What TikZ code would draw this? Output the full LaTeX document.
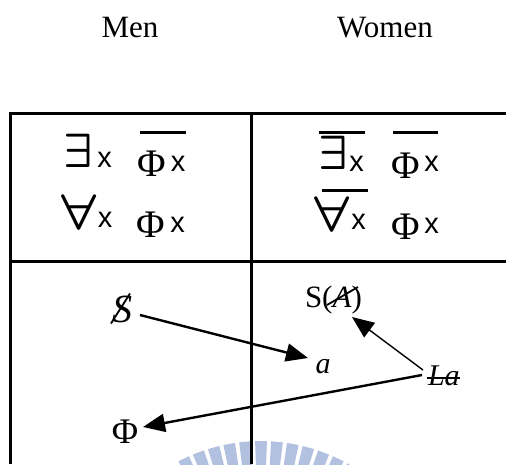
\documentclass[tikz,border=0pt]{standalone}
\usepackage{fontspec}
\setmainfont{Liberation Serif}
\newfontfamily\sansx{Liberation Sans}
\usetikzlibrary{arrows.meta,calc}
\definecolor{wm}{RGB}{178,193,224}
\newcommand{\bigexists}{\scalebox{4.6}[4.8]{\boldmath$\exists$}}
\newcommand{\bigforall}{\scalebox{5.5}[5.0]{\boldmath$\forall$}}
\begin{document}
\begin{tikzpicture}[x=1pt,y=-1pt,
  txt/.style={inner sep=0pt, outer sep=0pt},
  hd/.style={txt, font=\fontsize{31}{36}\selectfont},
  qf/.style={txt},
  ph/.style={txt, font=\fontsize{39}{43}\selectfont},
  xx/.style={txt, font=\sansx\fontsize{29}{34}\selectfont},
  itx/.style={txt, font=\fontsize{30}{35}\selectfont\itshape},
  rmx/.style={txt, font=\fontsize{31}{36}\selectfont},
  gridline/.style={line width=3pt, line join=miter},
  overbar/.style={line width=3pt},
  strike/.style={line width=1.8pt},
  arr/.style={line width=2.4pt, -{Triangle[length=22pt,width=18pt]}},
  arrthin/.style={line width=1.4pt, -{Triangle[length=22pt,width=18pt]}},
]
\useasboundingbox (0,0) rectangle (506,464);
% watermark
\begin{scope}
  \clip (0,0) rectangle (506,464);
  \foreach \k in {-5,...,6}{
    \pgfmathsetmacro\ang{270+5.15*\k}
    \fill[wm,shift={(261,619)}] (\ang-1.9:150) -- (\ang-1.9:178) -- (\ang+1.9:178) -- (\ang+1.9:150) -- cycle;
  }
\end{scope}
% table
\draw[gridline] (506,113) -- (10,113) -- (10,464);
\draw[gridline] (251,113) -- (251,464);
\draw[gridline] (10,261) -- (506,261);
% headers
\node[hd, anchor=base] (men) at (130,37) {Men};
\node[hd, anchor=base] (women) at (385,37) {Women};
% row 1 left
\node[qf] (e1) at (78.5,150.5) {\bigexists};
\node[xx] (x1) at (104.5,159.5) {x};
\node[ph] (p1) at (152,164) {Φ};
\node[xx] (x2) at (178,163.5) {x};
\draw[overbar] (140,132) -- (186,132);
% row 2 left
\node[qf] (a1) at (79.5,212.5) {\bigforall};
\node[xx] (x3) at (105,220) {x};
\node[ph] (p2) at (151,224.5) {Φ};
\node[xx] (x4) at (177.5,224.5) {x};
% row 1 right
\node[qf] (e2) at (333.5,152.5) {\bigexists};
\node[xx] (x5) at (356.5,164) {x};
\node[ph] (p3) at (406,166) {Φ};
\node[xx] (x6) at (431.5,164) {x};
\draw[overbar] (319,132) -- (365,132);
\draw[overbar] (393,132) -- (438,132);
% row 2 right
\node[qf] (a2) at (332.5,214) {\bigforall};
\node[xx] (x7) at (358.5,221.5) {x};
\node[ph] (p4) at (406,227) {Φ};
\node[xx] (x8) at (431.5,226) {x};
\draw[overbar] (322,190) -- (368,190);
% bottom cells
\node[txt, font=\fontsize{40}{44}\selectfont\itshape] (ss) at (122,309.5) {S};
\draw[strike] ($(ss)+(-11,14)$) -- ($(ss)+(8,-16)$);
\node[rmx, anchor=base west] (sa) at (305,307) {S(\textit{A})};
\draw[strike] ($(sa.base west)+(22,-2)$) -- ($(sa.base west)+(53,-20)$);
\node[itx, anchor=base] (a) at (323,373) {a};
\node[itx, anchor=base west] (la) at (428,385) {La};
\draw[strike] ($(la.base west)+(-1,-7)$) -- ($(la.base west)+(32,-7)$);
\node[txt, font=\fontsize{36}{40}\selectfont, anchor=base] (phi) at (125,443) {Φ};
% arrows
\draw[arr] ($(ss)+(18,5.5)$) -- ($(a.base)+(-15,-15)$);
\draw[arrthin] ($(la.base west)+(-5,-15)$) -- ($(sa.base west)+(47,10)$);
\draw[arr] ($(la.base west)+(-6,-10)$) -- ($(phi.base)+(18,-16)$);
\end{tikzpicture}
\end{document}
